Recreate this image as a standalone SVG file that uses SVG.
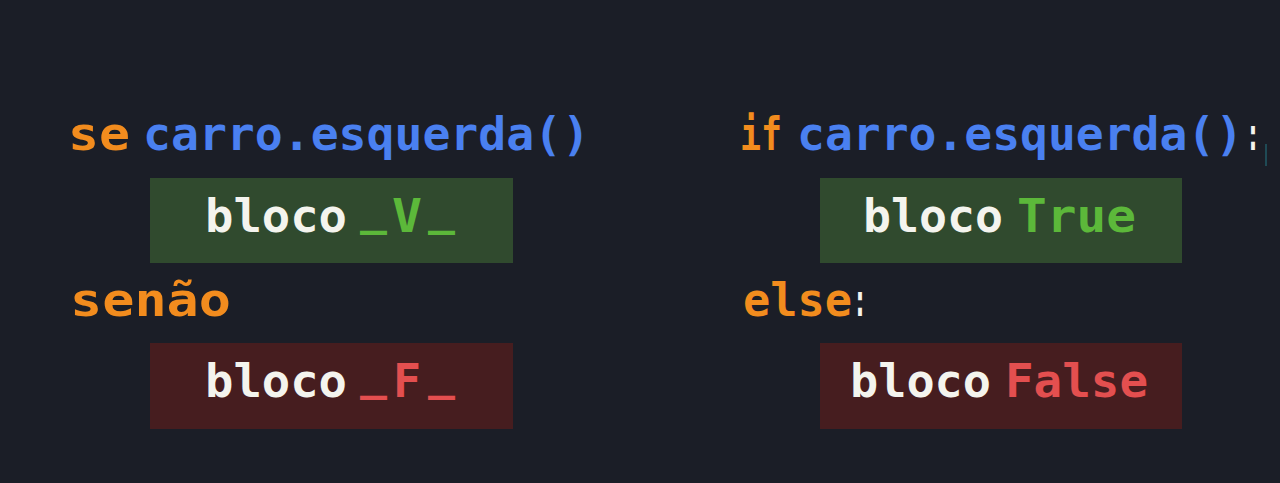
<svg xmlns="http://www.w3.org/2000/svg" width="1280" height="483" viewBox="0 0 1280 483">
<style>
text{font-family:"DejaVu Sans Mono","Liberation Mono",monospace;font-weight:bold;font-size:46px}
.kw{fill:#f28c1e}.fn{fill:#4a80f0}.wh{fill:#f4f4ee}.gt{fill:#5cb83a}.rt{fill:#e34f4f}
.gb{fill:#304a2e}.rb{fill:#461d1f}
</style>
<rect width="1280" height="483" fill="#1b1e27"/>
<g id="left-if">
<text x="68" y="150" class="kw" textLength="62" lengthAdjust="spacingAndGlyphs">se</text>
<text x="143" y="150" class="fn" textLength="447" lengthAdjust="spacingAndGlyphs">carro.esquerda()</text>
</g>
<g id="left-true-block">
<rect x="150" y="178" width="363" height="85" class="gb"/>
<text x="205" y="232" class="wh" textLength="142" lengthAdjust="spacingAndGlyphs">bloco</text>
<text x="360" y="224" class="gt" textLength="27" lengthAdjust="spacingAndGlyphs">_</text>
<text x="392" y="232" class="gt" textLength="30" lengthAdjust="spacingAndGlyphs">V</text>
<text x="428" y="224" class="gt" textLength="27" lengthAdjust="spacingAndGlyphs">_</text>
</g>
<g id="left-else">
<text x="70" y="316" class="kw" textLength="161" lengthAdjust="spacingAndGlyphs">senão</text>
</g>
<g id="left-false-block">
<rect x="150" y="343" width="363" height="86" class="rb"/>
<text x="205" y="397" class="wh" textLength="142" lengthAdjust="spacingAndGlyphs">bloco</text>
<text x="360" y="389" class="rt" textLength="27" lengthAdjust="spacingAndGlyphs">_</text>
<text x="393" y="397" class="rt" textLength="28" lengthAdjust="spacingAndGlyphs">F</text>
<text x="428" y="389" class="rt" textLength="27" lengthAdjust="spacingAndGlyphs">_</text>
</g>
<g id="right-if">
<text x="740" y="150" class="kw" textLength="42" lengthAdjust="spacingAndGlyphs">if</text>
<text x="797" y="150" class="fn" textLength="446" lengthAdjust="spacingAndGlyphs">carro.esquerda()</text>
<text x="1246" y="150" class="wh" textLength="14" lengthAdjust="spacingAndGlyphs">:</text>
<line x1="1266" y1="144" x2="1266" y2="166" stroke="#1f4a55" stroke-width="2"/>
</g>
<g id="right-true-block">
<rect x="820" y="178" width="362" height="85" class="gb"/>
<text x="863" y="232" class="wh" textLength="140" lengthAdjust="spacingAndGlyphs">bloco</text>
<text x="1017" y="232" class="gt" textLength="119" lengthAdjust="spacingAndGlyphs">True</text>
</g>
<g id="right-else">
<text x="743" y="316" class="kw" textLength="109" lengthAdjust="spacingAndGlyphs">else</text>
<text x="853" y="316" class="wh" textLength="14" lengthAdjust="spacingAndGlyphs">:</text>
</g>
<g id="right-false-block">
<rect x="820" y="343" width="362" height="86" class="rb"/>
<text x="850" y="397" class="wh" textLength="141" lengthAdjust="spacingAndGlyphs">bloco</text>
<text x="1005" y="397" class="rt" textLength="143" lengthAdjust="spacingAndGlyphs">False</text>
</g>
<g id="connectors"/>
</svg>
